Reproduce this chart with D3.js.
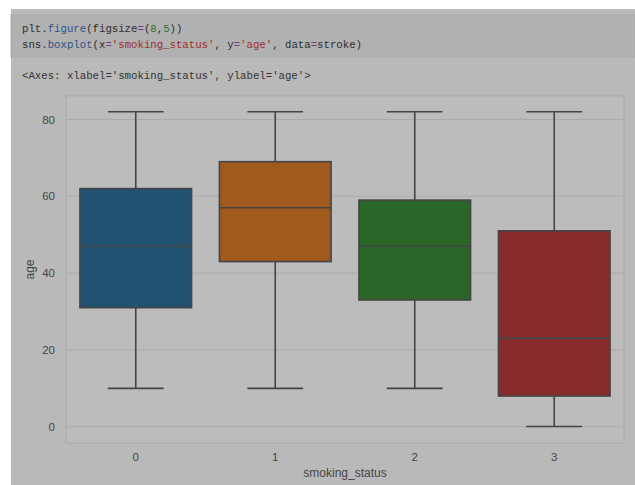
<!DOCTYPE html>
<html>
<head>
<meta charset="utf-8">
<script src="https://cdn.jsdelivr.net/npm/d3@7"></script>
<style>
  html, body { margin: 0; padding: 0; background: #ffffff; }
</style>
</head>
<body>
<div id="chart"></div>
<script>
// boxplot stats
var categories = ["0", "1", "2", "3"];
var whiskerLow = [10, 10, 10, 0.08];
var q1 = [31, 43, 33, 8];
var median = [47, 57, 47, 23];
var q3 = [62, 69, 59, 51];
var whiskerHigh = [82, 82, 82, 82];
var yTicks = [0, 20, 40, 60, 80];
var boxColors = ["#215272", "#a05a1e", "#2a6628", "#892b2d"];

var w = 635, h = 485;
var margin = {left: 66, right: 11, top: 96, bottom: 42};

var svg = d3.select("#chart").append("svg")
    .attr("width", w)
    .attr("height", h);

// grey page (screenshot overlay)
svg.append("rect").attr("x", 11).attr("y", 9).attr("width", w - 11).attr("height", h - 9)
    .attr("fill", "#b9b9b9");

// code cell
svg.append("rect").attr("x", 11).attr("y", 15).attr("width", w - 11).attr("height", 42)
    .attr("fill", "#b1b1b1").attr("stroke", "#a9a9a9");

var codeLines = [
    [["plt.", "#2e2e2e"], ["figure", "#2f5488"], ["(figsize", "#2e2e2e"], ["=", "#7a3a7a"], ["(", "#2e2e2e"], ["8", "#2f6e2f"], [",", "#2e2e2e"], ["5", "#2f6e2f"], ["))", "#2e2e2e"]],
    [["sns.", "#2e2e2e"], ["boxplot", "#2f5488"], ["(x", "#2e2e2e"], ["=", "#7a3a7a"], ["'smoking_status'", "#9c2e2e"], [", y", "#2e2e2e"], ["=", "#7a3a7a"], ["'age'", "#9c2e2e"], [", data", "#2e2e2e"], ["=", "#7a3a7a"], ["stroke)", "#2e2e2e"]]
];
codeLines.forEach(function(line, i){
    var t = svg.append("text")
        .attr("x", 22).attr("y", 32 + i * 16)
        .attr("font-family", "'Liberation Mono', 'DejaVu Sans Mono', monospace")
        .attr("font-size", 10.7);
    line.forEach(function(p){
        t.append("tspan").attr("fill", p[1]).attr("xml:space", "preserve").text(p[0]);
    });
});

svg.append("text")
    .attr("x", 22).attr("y", 79)
    .attr("font-family", "'Liberation Mono', 'DejaVu Sans Mono', monospace")
    .attr("font-size", 10.7)
    .attr("fill", "#333")
    .text("<Axes: xlabel='smoking_status', ylabel='age'>");

var xScale = d3.scaleBand().domain(categories)
    .range([margin.left, w - margin.right])
    .paddingInner(0).paddingOuter(0);

var yScale = d3.scaleLinear().domain([-4.1, 86.1])
    .range([h - margin.bottom - 0.5, margin.top]);

// plot area
svg.append("rect")
    .attr("x", margin.left).attr("y", margin.top)
    .attr("width", w - margin.left - margin.right)
    .attr("height", h - margin.top - margin.bottom)
    .attr("fill", "#bcbcbc")
    .attr("stroke", "#a9a9a9")
    .attr("stroke-width", 1);

// horizontal grid
svg.selectAll("line.grid")
    .data(yTicks)
    .enter()
    .append("line")
    .attr("class", "grid")
    .attr("x1", margin.left).attr("x2", w - margin.right)
    .attr("y1", function(d){ return yScale(d); })
    .attr("y2", function(d){ return yScale(d); })
    .attr("stroke", "#aaaaaa")
    .attr("stroke-width", 1);

// axes (labels only, no tick marks)
var yAxis = svg.append("g")
    .attr("transform", "translate(" + margin.left + ",0)")
    .call(d3.axisLeft(yScale).tickValues(yTicks).tickSize(0).tickPadding(11));
var xAxis = svg.append("g")
    .attr("transform", "translate(0," + (h - margin.bottom) + ")")
    .call(d3.axisBottom(xScale).tickSize(0).tickPadding(10));
[yAxis, xAxis].forEach(function(a){
    a.select(".domain").remove();
    a.selectAll("text")
        .attr("font-family", "'Liberation Sans', Arial, sans-serif")
        .attr("font-size", 11.5)
        .attr("fill", "#454545");
});

svg.append("text")
    .attr("x", xScale.range()[0] + (xScale.range()[1] - xScale.range()[0]) / 2)
    .attr("y", 477)
    .attr("text-anchor", "middle")
    .attr("font-family", "'Liberation Sans', Arial, sans-serif")
    .attr("font-size", 12)
    .attr("fill", "#454545")
    .text("smoking_status");

svg.append("text")
    .attr("transform", "translate(34," + ((margin.top + h - margin.bottom) / 2) + ") rotate(-90)")
    .attr("text-anchor", "middle")
    .attr("font-family", "'Liberation Sans', Arial, sans-serif")
    .attr("font-size", 12)
    .attr("fill", "#454545")
    .text("age");

var boxW = xScale.bandwidth() * 0.8;
var lineColor = "#444444";

var groups = svg.selectAll("g.box")
    .data(categories)
    .enter()
    .append("g")
    .attr("class", "box");

var cx = function(d){ return xScale(d) + xScale.bandwidth() / 2; };

// whiskers
groups.append("line")
    .attr("x1", cx).attr("x2", cx)
    .attr("y1", function(d, i){ return yScale(whiskerHigh[i]); })
    .attr("y2", function(d, i){ return yScale(q3[i]); })
    .attr("stroke", lineColor).attr("stroke-width", 1.6);
groups.append("line")
    .attr("x1", cx).attr("x2", cx)
    .attr("y1", function(d, i){ return yScale(q1[i]); })
    .attr("y2", function(d, i){ return yScale(whiskerLow[i]); })
    .attr("stroke", lineColor).attr("stroke-width", 1.6);

// caps
[whiskerHigh, whiskerLow].forEach(function(arr){
    groups.append("line")
        .attr("x1", function(d){ return cx(d) - boxW / 4; })
        .attr("x2", function(d){ return cx(d) + boxW / 4; })
        .attr("y1", function(d, i){ return yScale(arr[i]); })
        .attr("y2", function(d, i){ return yScale(arr[i]); })
        .attr("stroke", lineColor).attr("stroke-width", 1.6);
});

// boxes
groups.append("rect")
    .attr("x", function(d){ return cx(d) - boxW / 2; })
    .attr("width", boxW)
    .attr("y", function(d, i){ return yScale(q3[i]); })
    .attr("height", function(d, i){ return yScale(q1[i]) - yScale(q3[i]); })
    .attr("fill", function(d, i){ return boxColors[i]; })
    .attr("stroke", lineColor).attr("stroke-width", 1.6);

// medians
groups.append("line")
    .attr("x1", function(d){ return cx(d) - boxW / 2; })
    .attr("x2", function(d){ return cx(d) + boxW / 2; })
    .attr("y1", function(d, i){ return yScale(median[i]); })
    .attr("y2", function(d, i){ return yScale(median[i]); })
    .attr("stroke", lineColor).attr("stroke-width", 1.6);
</script>
</body>
</html>
